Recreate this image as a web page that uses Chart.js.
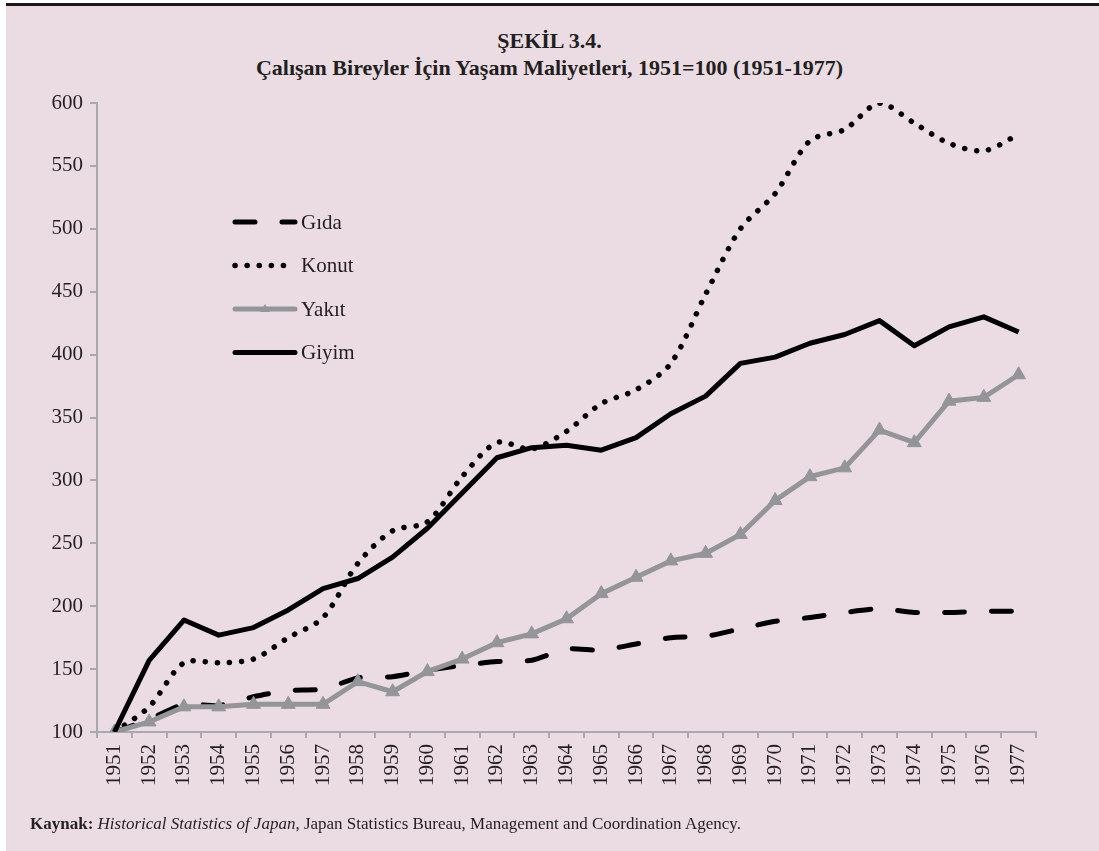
<!DOCTYPE html>
<html lang="tr">
<head>
<meta charset="utf-8">
<title>Şekil 3.4</title>
<script src="https://cdn.jsdelivr.net/npm/chart.js@4.4.1/dist/chart.umd.min.js"></script>
<style>
    html, body { margin: 0; padding: 0; background: #fff; }
    body { width: 1099px; height: 851px; position: relative; overflow: hidden; font-family: 'Liberation Serif', 'DejaVu Serif', serif; color: #231f20; }
    .frame { position: absolute; left: 6px; top: 3px; right: 0; bottom: 0; background: #ebdce3; border-top: 3px solid #1a1a1a; }
    .title { position: absolute; left: 0; width: 1099px; top: 27px; text-align: center; font-weight: bold; font-size: 22px; line-height: 27px; }
    .source { position: absolute; left: 30px; top: 814px; font-size: 17px; }
    canvas { position: absolute; left: 0; top: 0; }
</style>
</head>
<body>
<div class="frame"></div>
<div class="title">ŞEKİL 3.4.<br>Çalışan Bireyler İçin Yaşam Maliyetleri, 1951=100 (1951-1977)</div>
<canvas id="chart" width="1099" height="851"></canvas>
<div class="source"><b>Kaynak:</b> <i>Historical Statistics of Japan</i>, Japan Statistics Bureau, Management and Coordination Agency.</div>
<script>
// values (1951 = 100)
const years = ['1951', '1952', '1953', '1954', '1955', '1956', '1957', '1958', '1959', '1960',
    '1961', '1962', '1963', '1964', '1965', '1966', '1967', '1968', '1969', '1970',
    '1971', '1972', '1973', '1974', '1975', '1976', '1977'];

const gida  = [100, 110, 122, 121, 128, 133, 134, 143, 144, 149, 153, 156, 157, 166, 165, 170, 175, 176, 182, 188, 191, 195, 198, 195, 195, 196, 196];
const konut = [100, 120, 155, 155, 158, 175, 191, 234, 260, 267, 303, 330, 325, 339, 361, 372, 393, 448, 500, 528, 570, 579, 600, 584, 568, 562, 575];
const yakit = [100, 108, 120, 120, 122, 122, 122, 140, 132, 148, 158, 171, 178, 190, 210, 223, 236, 242, 257, 284, 303, 310, 340, 330, 363, 366, 384];
const giyim = [100, 157, 189, 177, 183, 197, 214, 222, 239, 262, 290, 318, 326, 328, 324, 334, 353, 367, 393, 398, 409, 416, 427, 407, 422, 430, 418];

const yTicks = [100, 150, 200, 250, 300, 350, 400, 450, 500, 550, 600];

const AXIS_GREY = '#a7a9ac';
const SERIES_GREY = '#939598';
const INK = '#231f20';

// legend sits inside the plot, top left, like the original
const insideLegend = {
    id: 'insideLegend',
    afterDatasetsDraw(chart) {
        const ctx = chart.ctx;
        const x0 = 235, x1 = 295;
        chart.data.datasets.forEach((ds, i) => {
            const y = 222 + i * 43.5;
            ctx.save();
            ctx.strokeStyle = ds.borderColor;
            ctx.lineWidth = ds.borderWidth;
            ctx.lineCap = 'round';
            ctx.setLineDash(ds.borderDash || []);
            ctx.beginPath();
            ctx.moveTo(x0, y);
            ctx.lineTo(x1, y);
            ctx.stroke();
            if (ds.pointStyle === 'triangle') {
                ctx.setLineDash([]);
                ctx.fillStyle = ds.pointBackgroundColor;
                ctx.beginPath();
                ctx.moveTo((x0 + x1) / 2, y - 5);
                ctx.lineTo((x0 + x1) / 2 + 5, y + 3);
                ctx.lineTo((x0 + x1) / 2 - 5, y + 3);
                ctx.closePath();
                ctx.fill();
            }
            ctx.fillStyle = INK;
            ctx.font = '21px "Liberation Serif", serif';
            ctx.textBaseline = 'middle';
            ctx.fillText(ds.label, x1 + 6, y + 1);
            ctx.restore();
        });
    }
};

const ctx = document.getElementById('chart');
new Chart(ctx, {
    type: 'line',
    data: {
        labels: years,
        datasets: [
            {
                label: 'Gıda', data: gida, order: 4,
                borderColor: '#000', borderWidth: 5, borderDash: [20, 27], borderCapStyle: 'round',
                tension: 0.2, pointRadius: 0
            },
            {
                label: 'Konut', data: konut, order: 3,
                borderColor: '#000', borderWidth: 5.5, borderDash: [0.1, 12], borderCapStyle: 'round',
                tension: 0.3, pointRadius: 0
            },
            {
                label: 'Yakıt', data: yakit, order: 2,
                borderColor: SERIES_GREY, borderWidth: 5, tension: 0,
                pointStyle: 'triangle', pointRadius: 8, pointBackgroundColor: SERIES_GREY,
                pointBorderColor: SERIES_GREY, pointBorderWidth: 1
            },
            {
                label: 'Giyim', data: giyim, order: 1,
                borderColor: '#000', borderWidth: 5, borderJoinStyle: 'round', tension: 0, pointRadius: 0
            }
        ]
    },
    options: {
        responsive: false,
        animation: false,
        devicePixelRatio: 1,
        layout: { padding: { top: 103, right: 63, bottom: 0, left: 0 } },
        plugins: {
            legend: { display: false },
            tooltip: { enabled: false }
        },
        scales: {
            x: {
                offset: true,
                grid: { offset: true, drawOnChartArea: false, drawTicks: true, tickLength: 6, color: AXIS_GREY, lineWidth: 2 },
                border: { color: AXIS_GREY, width: 2 },
                ticks: { color: INK, font: { family: 'Liberation Serif', size: 21 }, maxRotation: 90, minRotation: 90, padding: 6, autoSkip: false },
                afterFit: (scale) => { scale.height = 119; }
            },
            y: {
                min: 100, max: 600,
                afterBuildTicks: (scale) => { scale.ticks = yTicks.map(v => ({ value: v })); },
                grid: { drawOnChartArea: false, drawTicks: true, tickLength: 7, color: AXIS_GREY, lineWidth: 2 },
                border: { color: AXIS_GREY, width: 2 },
                ticks: { color: INK, font: { family: 'Liberation Serif', size: 21 }, padding: 7 },
                afterFit: (scale) => { scale.width = 97; }
            }
        }
    },
    plugins: [insideLegend]
});
</script>
</body>
</html>
